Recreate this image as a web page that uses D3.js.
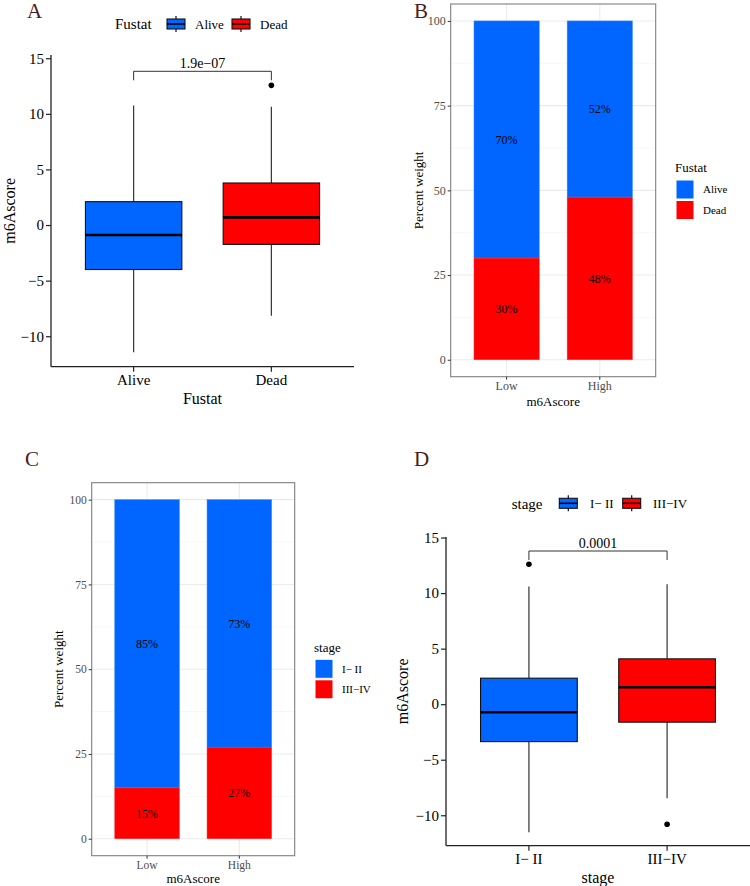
<!DOCTYPE html>
<html><head><meta charset="utf-8">
<script src="https://cdn.jsdelivr.net/npm/d3@7"></script>
<style>
html,body{margin:0;padding:0;background:#fff;}
svg{display:block;}
svg text{font-family:"Liberation Serif","Times New Roman",serif !important;}
</style></head>
<body><svg id="c" width="750" height="886"></svg>
<script>
// ---------- data ----------
const fustatGroups = ["Alive", "Dead"];
const fustatQ1 = [-4.0, -1.74];
const fustatMedian = [-0.9, 0.69];
const fustatQ3 = [2.1, 3.78];
const fustatWhiskerLow = [-11.45, -8.15];
const fustatWhiskerHigh = [10.75, 10.64];
const fustatOutliers = [[], [12.56]];
const fustatP = "1.9e\u221207";

const stageGroups = ["I\u2212 II", "III\u2212IV"];
const stageQ1 = [-3.37, -1.62];
const stageMedian = [-0.72, 1.53];
const stageQ3 = [2.34, 4.08];
const stageWhiskerLow = [-11.53, -8.47];
const stageWhiskerHigh = [10.6, 10.8];
const stageOutliers = [[12.6], [-10.81]];
const stageP = "0.0001";

const scoreGroups = ["Low", "High"];
const fustatAlivePct = [70, 52];
const fustatDeadPct = [30, 48];
const stageEarlyPct = [85, 73];
const stageLatePct = [15, 27];

const boxTicks = [-10, -5, 0, 5, 10, 15];
const pctTicks = [0, 25, 50, 75, 100];

const BLUE = "#0066ff", RED = "#ff0000";
const svg = d3.select("#c");
const fmt = d => d3.format("")(d); // d3 uses unicode minus

// ---------- panel letters ----------
[["A",27,18],["B",414,18],["C",25,466],["D",414,466]].forEach(([t,x,y])=>{
  svg.append("text").attr("x",x).attr("y",y).attr("font-size",21).attr("fill","#4a1c1c").text(t);
});

// ---------- box panel ----------
function boxPanel(o){
  const g = svg.append("g");
  const x = d3.scaleBand().domain(o.groups).range([o.left,o.right]).paddingInner(0.3).paddingOuter(0.25);
  const y = d3.scaleLinear().domain(o.ydom).range([o.bottom,o.top]);
  const cols = [BLUE, RED];
  const ya = g.append("g").attr("transform",`translate(${o.left},0)`)
    .call(d3.axisLeft(y).tickValues(boxTicks).tickSize(5).tickPadding(2).tickFormat(fmt));
  const xa = g.append("g").attr("transform",`translate(0,${o.bottom})`)
    .call(d3.axisBottom(x).tickSize(5).tickPadding(3));
  [ya,xa].forEach(a=>{
    a.select(".domain").attr("stroke","#222").attr("stroke-width",1.3);
    a.selectAll(".tick line").attr("stroke","#222").attr("stroke-width",1.2);
    a.selectAll("text").attr("font-size",15).attr("fill","#000");
  });
  ya.select(".domain").attr("d",`M-0,${o.bottom}V${o.top}`);
  xa.select(".domain").attr("d",`M${o.left},0H${o.right}`);
  o.groups.forEach((gname,i)=>{
    const cx = x(gname)+x.bandwidth()/2, bw = x.bandwidth();
    g.append("line").attr("x1",cx).attr("x2",cx).attr("y1",y(o.whiskerHigh[i])).attr("y2",y(o.q3[i])).attr("stroke","#333").attr("stroke-width",1.2);
    g.append("line").attr("x1",cx).attr("x2",cx).attr("y1",y(o.q1[i])).attr("y2",y(o.whiskerLow[i])).attr("stroke","#333").attr("stroke-width",1.2);
    g.append("rect").attr("x",x(gname)).attr("y",y(o.q3[i])).attr("width",bw).attr("height",y(o.q1[i])-y(o.q3[i]))
      .attr("fill",cols[i]).attr("stroke","#111").attr("stroke-width",1.1);
    g.append("line").attr("x1",x(gname)).attr("x2",x(gname)+bw).attr("y1",y(o.median[i])).attr("y2",y(o.median[i])).attr("stroke","#000").attr("stroke-width",2.6);
    o.outliers[i].forEach(v=>g.append("circle").attr("cx",cx).attr("cy",y(v)).attr("r",2.8).attr("fill","#000"));
  });
  const c0 = x(o.groups[0])+x.bandwidth()/2, c1 = x(o.groups[1])+x.bandwidth()/2;
  g.append("path").attr("d",`M${c0},${o.bracketY+9}V${o.bracketY}H${c1}V${o.bracketY+9}`).attr("fill","none").attr("stroke","#333").attr("stroke-width",1);
  g.append("text").attr("x",(c0+c1)/2).attr("y",o.bracketY-3).attr("text-anchor","middle").attr("font-size",14).text(o.p);
  g.append("text").attr("x",(o.left+o.right)/2).attr("y",o.bottom+37).attr("text-anchor","middle").attr("font-size",16).text(o.xtitle);
  g.append("text").attr("transform",`translate(${o.ytx},${(o.top+o.bottom)/2}) rotate(-90)`).attr("text-anchor","middle").attr("dy","0.35em").attr("font-size",16).text("m6Ascore");
  const L = o.legend;
  g.append("text").attr("x",L.titleX).attr("y",L.y).attr("dy","0.35em").attr("font-size",15).text(o.xtitle);
  o.groups.forEach((gname,i)=>{
    const kx = L.keyX[i];
    g.append("line").attr("x1",kx+9).attr("x2",kx+9).attr("y1",L.y-8).attr("y2",L.y+8).attr("stroke","#111").attr("stroke-width",1.2);
    g.append("rect").attr("x",kx).attr("y",L.y-5).attr("width",18).attr("height",10).attr("fill",cols[i]).attr("stroke","#111").attr("stroke-width",1.1);
    g.append("line").attr("x1",kx).attr("x2",kx+18).attr("y1",L.y).attr("y2",L.y).attr("stroke","#000").attr("stroke-width",1.6);
    g.append("text").attr("x",L.textX[i]).attr("y",L.y).attr("dy","0.35em").attr("font-size",13).text(gname);
  });
}

// ---------- stacked percent bar panel ----------
function barPanel(o){
  const g = svg.append("g");
  const x = d3.scaleBand().domain(scoreGroups).range([o.left,o.right]).paddingInner(0.3).paddingOuter(0.25);
  const y = d3.scaleLinear().domain([-5,105]).range([o.bottom,o.top]);
  [12.5,37.5,62.5,87.5].forEach(v=>g.append("line").attr("x1",o.left).attr("x2",o.right).attr("y1",y(v)).attr("y2",y(v)).attr("stroke","#f2f2f2").attr("stroke-width",0.6));
  pctTicks.forEach(v=>g.append("line").attr("x1",o.left).attr("x2",o.right).attr("y1",y(v)).attr("y2",y(v)).attr("stroke","#ebebeb").attr("stroke-width",1.1));
  scoreGroups.forEach(s=>{const cx=x(s)+x.bandwidth()/2; g.append("line").attr("x1",cx).attr("x2",cx).attr("y1",o.top).attr("y2",o.bottom).attr("stroke","#ebebeb").attr("stroke-width",1.1);});
  scoreGroups.forEach((s,i)=>{
    const lo = o.bottomVals[i], hi = o.topVals[i];
    g.append("rect").attr("x",x(s)).attr("width",x.bandwidth()).attr("y",y(lo+hi)).attr("height",y(lo)-y(lo+hi)).attr("fill",BLUE).attr("stroke","#3388ff").attr("stroke-width",0.5);
    g.append("rect").attr("x",x(s)).attr("width",x.bandwidth()).attr("y",y(lo)).attr("height",y(0)-y(lo)).attr("fill",RED).attr("stroke","#ff3333").attr("stroke-width",0.5);
    const cx = x(s)+x.bandwidth()/2;
    g.append("text").attr("x",cx).attr("y",y(lo+hi/2)).attr("dy","0.35em").attr("text-anchor","middle").attr("font-size",12).text(hi+"%");
    g.append("text").attr("x",cx).attr("y",y(lo/2)).attr("dy","0.35em").attr("text-anchor","middle").attr("font-size",12).text(lo+"%");
  });
  g.append("rect").attr("x",o.left).attr("y",o.top).attr("width",o.right-o.left).attr("height",o.bottom-o.top).attr("fill","none").attr("stroke","#7f7f7f").attr("stroke-width",1.1);
  const ya = g.append("g").attr("transform",`translate(${o.left},0)`).call(d3.axisLeft(y).tickValues(pctTicks).tickSize(3).tickPadding(2));
  const xa = g.append("g").attr("transform",`translate(0,${o.bottom})`).call(d3.axisBottom(x).tickSize(3).tickPadding(2));
  [ya,xa].forEach(a=>{
    a.select(".domain").remove();
    a.selectAll(".tick line").attr("stroke","#333");
    a.selectAll("text").attr("font-size",o.tickSize).attr("fill","#4d4d4d");
  });
  g.append("text").attr("x",(o.left+o.right)/2).attr("y",o.bottom+o.xtDy).attr("dy","0.35em").attr("text-anchor","middle").attr("font-size",13).text("m6Ascore");
  g.append("text").attr("transform",`translate(${o.ytx},${(o.top+o.bottom)/2}) rotate(-90)`).attr("text-anchor","middle").attr("dy","0.35em").attr("font-size",13).text("Percent weight");
  const L = o.legend;
  g.append("text").attr("x",L.x).attr("y",L.titleY).attr("dy","0.35em").attr("font-size",13).text(o.legendTitle);
  [[BLUE,o.legendLabels[0]],[RED,o.legendLabels[1]]].forEach(([c,t],i)=>{
    const ky = L.keyY + i*20.5;
    g.append("rect").attr("x",L.x+1).attr("y",ky).attr("width",18).attr("height",19).attr("fill",c).attr("stroke","#fff").attr("stroke-width",1);
    g.append("text").attr("x",L.x+28).attr("y",ky+9.5).attr("dy","0.35em").attr("font-size",11).text(t);
  });
}

boxPanel({groups:fustatGroups,q1:fustatQ1,median:fustatMedian,q3:fustatQ3,whiskerLow:fustatWhiskerLow,whiskerHigh:fustatWhiskerHigh,outliers:fustatOutliers,p:fustatP,
  left:51,right:354,top:55,bottom:366.7,ydom:[-12.74,15.29],bracketY:71.3,xtitle:"Fustat",ytx:9,
  legend:{titleX:115,y:24,keyX:[167,232],textX:[195,260]}});

barPanel({left:450.7,right:655.7,top:4,bottom:376.7,topVals:fustatAlivePct,bottomVals:fustatDeadPct,ytx:418,xtDy:25,tickSize:12,
  legendTitle:"Fustat",legendLabels:["Alive","Dead"],legend:{x:675,titleY:167,keyY:180}});

barPanel({left:91.7,right:294.7,top:482.7,bottom:855.7,topVals:stageEarlyPct,bottomVals:stageLatePct,ytx:58,xtDy:23,tickSize:11.5,
  legendTitle:"stage",legendLabels:["I\u2212 II","III\u2212IV"],legend:{x:314,titleY:647,keyY:659.3}});

boxPanel({groups:stageGroups,q1:stageQ1,median:stageMedian,q3:stageQ3,whiskerLow:stageWhiskerLow,whiskerHigh:stageWhiskerHigh,outliers:stageOutliers,p:stageP,
  left:446,right:750,top:537,bottom:845.7,ydom:[-12.74,15.05],bracketY:551,xtitle:"stage",ytx:402,
  legend:{titleX:511.7,y:503.3,keyX:[559.3,622.7],textX:[590,653]}});
</script>
</body></html>
